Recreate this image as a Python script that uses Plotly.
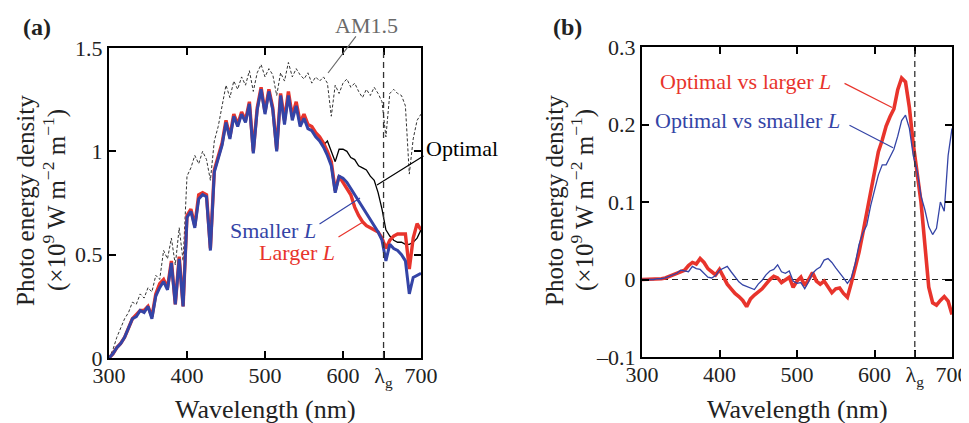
import plotly.graph_objects as go

# ---------------- data ----------------
wl = list(range(300, 705, 5))  # wavelength grid (nm)

am15 = [0.00, 0.04, 0.10, 0.15, 0.19, 0.22, 0.27, 0.26, 0.31, 0.29,
        0.34, 0.32, 0.40, 0.38, 0.52, 0.48, 0.58, 0.45, 0.63, 0.47,
        0.88, 0.92, 0.98, 0.94, 1.00, 0.96, 0.86, 1.05, 1.12, 1.22,
        1.32, 1.26, 1.34, 1.30, 1.36, 1.32, 1.39, 1.29, 1.38, 1.42,
        1.36, 1.40, 1.37, 1.27, 1.38, 1.34, 1.43, 1.36, 1.40, 1.37,
        1.35, 1.38, 1.33, 1.36, 1.34, 1.36, 1.33, 1.17, 1.32, 1.28,
        1.33, 1.35, 1.31, 1.33, 1.29, 1.26, 1.30, 1.27, 1.31, 1.28,
        1.24, 1.07, 1.28, 1.30, 1.28, 1.27, 1.22, 0.89, 1.06, 1.15, 1.18]

smaller_L = [0.00, 0.02, 0.05, 0.07, 0.10, 0.15, 0.19, 0.20, 0.23, 0.22,
             0.25, 0.19, 0.30, 0.34, 0.37, 0.33, 0.46, 0.26, 0.48, 0.25,
             0.68, 0.71, 0.63, 0.77, 0.79, 0.78, 0.52, 0.90, 0.96, 1.03,
             1.14, 1.06, 1.17, 1.12, 1.18, 1.14, 1.23, 0.99, 1.20, 1.30,
             1.18, 1.29, 1.20, 1.00, 1.27, 1.13, 1.27, 1.15, 1.22, 1.12,
             1.16, 1.11, 1.10, 1.07, 1.05, 1.02, 0.98, 0.93, 0.80, 0.88,
             0.87, 0.85, 0.82, 0.79, 0.76, 0.73, 0.70, 0.67, 0.64, 0.61,
             0.57, 0.47, 0.55, 0.53, 0.52, 0.50, 0.47, 0.31, 0.39, 0.40, 0.41]

larger_L = [0.00, 0.02, 0.05, 0.07, 0.10, 0.15, 0.19, 0.21, 0.23, 0.23,
            0.25, 0.20, 0.31, 0.36, 0.38, 0.34, 0.47, 0.26, 0.49, 0.25,
            0.69, 0.72, 0.64, 0.79, 0.80, 0.79, 0.53, 0.91, 0.97, 1.04,
            1.15, 1.07, 1.18, 1.13, 1.19, 1.15, 1.24, 1.00, 1.21, 1.31,
            1.19, 1.30, 1.21, 1.01, 1.28, 1.15, 1.29, 1.17, 1.24, 1.14,
            1.18, 1.13, 1.12, 1.09, 1.07, 1.04, 1.00, 0.95, 0.81, 0.88,
            0.85, 0.82, 0.79, 0.73, 0.69, 0.66, 0.64, 0.63, 0.62, 0.61,
            0.58, 0.53, 0.57, 0.59, 0.60, 0.60, 0.60, 0.43, 0.58, 0.65, 0.62]

wl_opt = list(range(570, 705, 5))
optimal = [1.05, 1.03, 1.05, 1.00, 0.95, 1.01, 1.01, 1.00, 0.97, 0.96,
           0.93, 0.92, 0.91, 0.88, 0.86, 0.80, 0.72, 0.62, 0.59, 0.57,
           0.56, 0.56, 0.55, 0.55, 0.56, 0.58, 0.62]

diff_larger = [0.000, 0.000, 0.000, 0.000, 0.001, 0.001, 0.002, 0.004, 0.006, 0.008,
               0.010, 0.012, 0.018, 0.022, 0.020, 0.027, 0.022, 0.014, 0.010, 0.006,
               0.013, 0.004, -0.006, -0.012, -0.018, -0.022, -0.027, -0.035, -0.025, -0.020,
               -0.016, -0.012, -0.006, 0.000, 0.004, 0.002, -0.004, 0.000, 0.003, -0.010,
               -0.002, 0.003, -0.008, 0.000, 0.009, -0.002, -0.006, -0.002, -0.010, -0.017,
               -0.012, -0.011, -0.018, -0.023, -0.005, 0.015, 0.035, 0.060, 0.085, 0.110,
               0.135, 0.165, 0.180, 0.198, 0.210, 0.220, 0.245, 0.260, 0.255, 0.222,
               0.175, 0.140, 0.100, 0.045, -0.010, -0.030, -0.033, -0.027, -0.022, -0.028, -0.045]

diff_smaller = [0.000, 0.000, 0.000, 0.000, 0.001, 0.001, 0.002, 0.004, 0.005, 0.008,
                0.012, 0.011, 0.010, 0.017, 0.014, 0.013, 0.008, 0.003, 0.002, 0.005,
                0.012, 0.015, 0.017, 0.010, 0.003, -0.003, -0.007, -0.009, -0.011, -0.013,
                -0.006, -0.001, 0.006, 0.011, 0.013, 0.019, 0.010, 0.008, 0.011, -0.002,
                -0.005, -0.004, -0.012, -0.003, 0.008, 0.013, 0.016, 0.025, 0.027, 0.022,
                0.015, 0.009, 0.002, -0.005, 0.002, 0.020, 0.045, 0.060, 0.070, 0.095,
                0.115, 0.135, 0.148, 0.148, 0.158, 0.168, 0.185, 0.205, 0.212, 0.195,
                0.160, 0.140, 0.108, 0.090, 0.068, 0.058, 0.066, 0.100, 0.088, 0.160, 0.195]

lambda_g = 652
x_tickvals = [300, 400, 500, 600, lambda_g, 700]
x_ticktext = ["300", "400", "500", "600", "λ<sub>g</sub>", "700"]
ya_tickvals = [0, 0.5, 1, 1.5]
ya_ticktext = ["0", "0.5", "1", "1.5"]
yb_tickvals = [-0.1, 0, 0.1, 0.2, 0.3]
yb_ticktext = ["–0.1", "0", "0.1", "0.2", "0.3"]

RED = "#e8342c"
BLUE = "#3444a6"
FONT = "Liberation Serif"

# page has an 8px body margin; figure is sized to fill the rest of the window
OFF = 8
W, H = 969 - OFF, 423 - OFF


def fx(px):
    return (px - OFF) / W


def fy(py):
    return 1 - (py - OFF) / H


fig = go.Figure()

# panel (a)
fig.add_trace(go.Scatter(x=wl, y=am15, mode="lines", xaxis="x", yaxis="y",
                         line=dict(color="#333333", width=1, dash="3px,2px")))
fig.add_trace(go.Scatter(x=wl_opt, y=optimal, mode="lines", xaxis="x", yaxis="y",
                         line=dict(color="black", width=1.3)))
fig.add_trace(go.Scatter(x=wl, y=larger_L, mode="lines", xaxis="x", yaxis="y",
                         line=dict(color=RED, width=3.4)))
fig.add_trace(go.Scatter(x=wl, y=smaller_L, mode="lines", xaxis="x", yaxis="y",
                         line=dict(color=BLUE, width=3)))

# panel (b)
fig.add_trace(go.Scatter(x=[300, 700], y=[0, 0], mode="lines", xaxis="x2", yaxis="y2",
                         line=dict(color="#222222", width=1.2, dash="6px,4px")))
fig.add_trace(go.Scatter(x=wl, y=diff_larger, mode="lines", xaxis="x2", yaxis="y2",
                         line=dict(color=RED, width=3.6)))
fig.add_trace(go.Scatter(x=wl, y=diff_smaller, mode="lines", xaxis="x2", yaxis="y2",
                         line=dict(color=BLUE, width=1.3)))

axis_common = dict(showline=True, linecolor="black", linewidth=2, mirror="ticks",
                   ticks="inside", ticklen=7, tickwidth=2, tickcolor="black",
                   showgrid=False, zeroline=False, automargin=False,
                   tickfont=dict(family=FONT, size=22, color="#222"))

fig.update_layout(
    width=W, height=H, showlegend=False,
    paper_bgcolor="white", plot_bgcolor="white",
    margin=dict(l=0, r=0, t=0, b=0, pad=0),
    font=dict(family=FONT, color="#222"),
    xaxis=dict(domain=[fx(109), fx(421)], range=[300, 700], anchor="y",
               tickvals=x_tickvals, ticktext=x_ticktext, ticklabelstandoff=-3,
               **axis_common),
    yaxis=dict(domain=[fy(358), fy(48)], range=[0, 1.5], anchor="x",
               tickvals=ya_tickvals, ticktext=ya_ticktext, **axis_common),
    xaxis2=dict(domain=[fx(642), fx(952)], range=[300, 700], anchor="y2",
                tickvals=x_tickvals, ticktext=x_ticktext, ticklabelstandoff=-3,
                **axis_common),
    yaxis2=dict(domain=[fy(357), fy(47)], range=[-0.1, 0.3], anchor="x2",
                tickvals=yb_tickvals, ticktext=yb_ticktext, **axis_common),
)

# lambda_g dashed verticals
for xr, yr, y0, y1 in [("x", "y", 0, 1.5), ("x2", "y2", -0.1, 0.3)]:
    fig.add_shape(type="line", xref=xr, yref=yr, x0=lambda_g, x1=lambda_g, y0=y0, y1=y1,
                  line=dict(color="#333333", width=1.3, dash="6px,4px"))

ann = []


def text(t, x, y, size=22, color="#222", bold=False, angle=0):
    ann.append(dict(text=("<b>%s</b>" % t) if bold else t, x=fx(x), y=fy(y),
                    xref="paper", yref="paper",
                    showarrow=False, textangle=angle, xanchor="center", yanchor="middle",
                    font=dict(family=FONT, size=size, color=color)))


def leader(x0, y0, x1, y1, xr, yr, color, width=1.2):
    ann.append(dict(text="", x=x1, y=y1, ax=x0, ay=y0, xref=xr, yref=yr, axref=xr, ayref=yr,
                    showarrow=True, arrowhead=0, arrowwidth=width, arrowcolor=color))


# panel labels (reference pixel positions)
text("(a)", 37, 27, size=24, bold=True)
text("(b)", 567, 27, size=24, bold=True)

# axis titles
ytitle1 = "Photo energy density"
ytitle2 = "(×10<sup>9</sup> W m<sup>−2</sup> m<sup>−1</sup>)"
text(ytitle1, 26, 201, size=25, angle=-90)
text(ytitle2, 54, 200, size=25, angle=-90)
text(ytitle1, 555, 201, size=25, angle=-90)
text(ytitle2, 582, 200, size=25, angle=-90)
text("Wavelength (nm)", 265, 409, size=26)
text("Wavelength (nm)", 797, 409, size=26)

# series labels panel (a)
text("AM1.5", 366, 25, color="#6a6a6a")
leader(618, 1.563, 580.8, 1.379, "x", "y", "#6a6a6a")
text("Optimal", 462, 148, color="black")
leader(705.1, 0.982, 643.6, 0.837, "x", "y", "black")
text("Smaller <i>L</i>", 273, 230, color=BLUE)
leader(568, 0.644, 621.8, 0.774, "x", "y", BLUE)
text("Larger <i>L</i>", 297, 252, color=RED)
leader(592.3, 0.581, 625.6, 0.658, "x", "y", RED)

# series labels panel (b)
text("Optimal vs larger <i>L</i>", 745, 81, color=RED)
leader(559.4, 0.254, 622.6, 0.222, "x2", "y2", RED)
text("Optimal vs smaller <i>L</i>", 747, 121, color=BLUE)
leader(565.8, 0.200, 623.9, 0.170, "x2", "y2", BLUE)

fig.update_layout(annotations=ann)
fig.write_html("out.html")
